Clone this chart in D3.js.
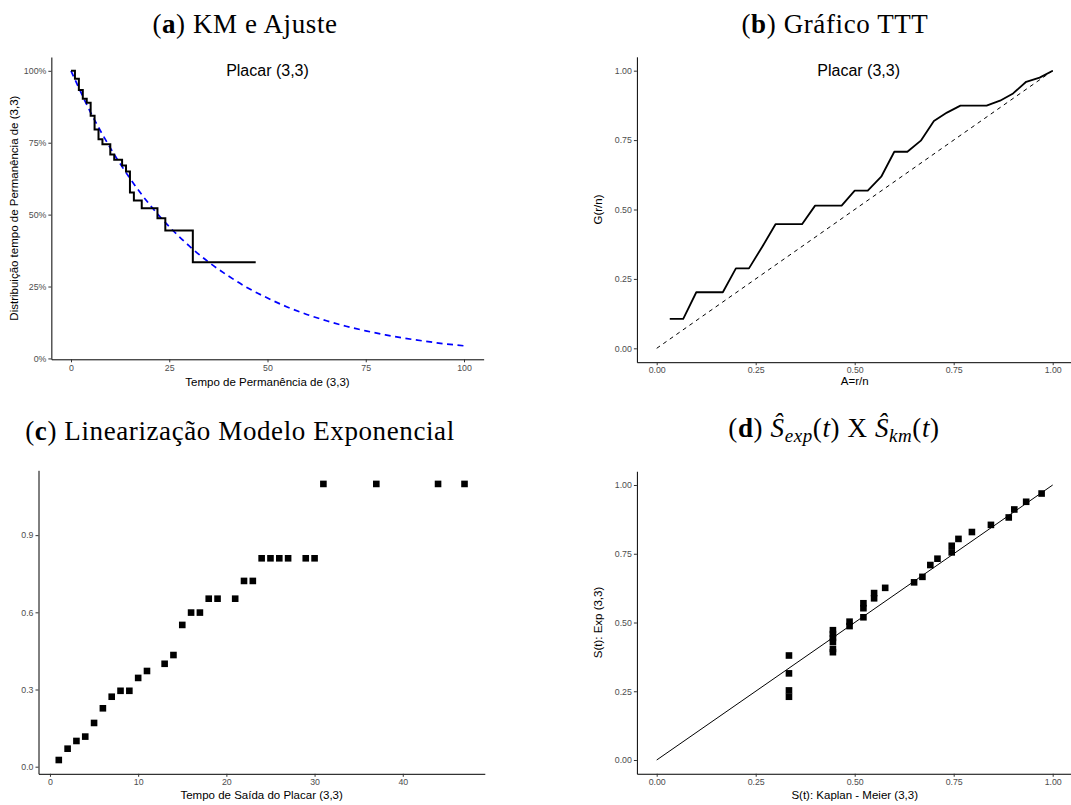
<!DOCTYPE html>
<html lang="pt">
<head>
<meta charset="UTF-8" />
<script src="https://d3js.org/d3.v7.min.js"></script>
<title>Placar (3,3)</title>
<style>
  body { margin: 0; background: #fff; }
  .tick text { font-family: "Liberation Sans", Arial, sans-serif; font-size: 8.8px; fill: #4d4d4d; }
  .tick line { stroke: #333; }
  .domain { stroke: #000; }
  .atitle { font-family: "Liberation Sans", Arial, sans-serif; font-size: 11.5px; fill: #000; }
  .ptitle { font-family: "Liberation Serif", "Times New Roman", serif; font-size: 27px; fill: #000; letter-spacing: 0.6px; }
  .annot { font-family: "Liberation Sans", Arial, sans-serif; font-size: 16px; fill: #000; }
</style>
</head>
<body>
<script>
// (a) Kaplan-Meier estimate (step) and fitted exponential curve
var kmTime = [0, 1, 2, 3, 4, 5, 6, 7, 8, 10, 11, 13, 14, 15, 16, 18, 22, 24, 31, 47];
var kmSurv = [1, 0.972, 0.933, 0.903, 0.889, 0.844, 0.796, 0.762, 0.745, 0.709, 0.691, 0.671, 0.650, 0.577, 0.549, 0.522, 0.487, 0.445, 0.334, 0.334];
var expTime = [0, 5, 10, 15, 20, 25, 30, 35, 40, 45, 50, 55, 60, 65, 70, 75, 80, 85, 90, 95, 100];
var expSurv = [1, 0.855, 0.732, 0.626, 0.535, 0.458, 0.392, 0.335, 0.287, 0.245, 0.210, 0.179, 0.153, 0.131, 0.112, 0.096, 0.082, 0.070, 0.060, 0.051, 0.044];
var kmXTicks = [0, 25, 50, 75, 100];
var kmYTicks = [0, 0.25, 0.5, 0.75, 1];

// (b) TTT plot
var tttA = [0.033, 0.067, 0.100, 0.133, 0.167, 0.200, 0.233, 0.267, 0.300, 0.333, 0.367, 0.400, 0.433, 0.467, 0.500,
            0.533, 0.567, 0.600, 0.633, 0.667, 0.700, 0.733, 0.767, 0.800, 0.833, 0.867, 0.900, 0.933, 0.967, 1.000];
var tttG = [0.106, 0.106, 0.202, 0.202, 0.202, 0.288, 0.288, 0.367, 0.447, 0.447, 0.447, 0.514, 0.514, 0.514, 0.568,
            0.568, 0.618, 0.708, 0.708, 0.748, 0.819, 0.849, 0.874, 0.874, 0.874, 0.892, 0.918, 0.960, 0.975, 1.000];
var unitTicks = [0, 0.25, 0.5, 0.75, 1];

// (c) linearization: -log S(t) vs time
var linTime = [1, 2, 3, 4, 5, 6, 7, 8, 9, 10, 11, 13, 14, 15, 16, 17, 18, 19, 21, 22, 23, 24, 25, 26, 27, 29, 30, 31, 37, 44, 47];
var linVal = [0.026, 0.070, 0.100, 0.117, 0.170, 0.227, 0.272, 0.295, 0.295, 0.345, 0.372, 0.400, 0.434, 0.551, 0.599, 0.599,
              0.653, 0.653, 0.653, 0.722, 0.722, 0.81, 0.81, 0.81, 0.81, 0.81, 0.81, 1.099, 1.099, 1.099, 1.099];
var linXTicks = [0, 10, 20, 30, 40];
var linYTicks = [0, 0.3, 0.6, 0.9];

// (d) S_exp vs S_km
var cmpKm = [0.334, 0.334, 0.334, 0.334, 0.445, 0.445, 0.445, 0.445, 0.445, 0.445, 0.487, 0.487, 0.522, 0.522, 0.522,
             0.549, 0.549, 0.577, 0.650, 0.671, 0.691, 0.709, 0.745, 0.745, 0.762, 0.796, 0.844, 0.889, 0.903, 0.933, 0.972];
var cmpExp = [0.380, 0.315, 0.253, 0.230, 0.472, 0.458, 0.444, 0.430, 0.404, 0.392, 0.503, 0.487, 0.570, 0.552, 0.519,
              0.607, 0.588, 0.626, 0.646, 0.666, 0.709, 0.732, 0.779, 0.755, 0.804, 0.829, 0.855, 0.882, 0.911, 0.939, 0.969];

var svg = d3.select("body").append("svg").attr("width", 1071).attr("height", 805);

function axes(x, y, xt, yt, xf, yf) {
  var xr = x.range(), yr = y.range();
  svg.append("g").attr("transform", "translate(0," + yr[0] + ")")
    .call(d3.axisBottom(x).tickValues(xt).tickFormat(xf).tickSize(3).tickSizeOuter(0).tickPadding(2));
  svg.append("g").attr("transform", "translate(" + xr[0] + ",0)")
    .call(d3.axisLeft(y).tickValues(yt).tickFormat(yf).tickSize(3).tickSizeOuter(0).tickPadding(2));
}
function xTitle(x, ypos, txt) {
  var r = x.range();
  svg.append("text").attr("class", "atitle").attr("x", (r[0] + r[1]) / 2).attr("y", ypos)
    .attr("text-anchor", "middle").text(txt);
}
function yTitle(y, xpos, txt) {
  var r = y.range();
  var cy = (r[0] + r[1]) / 2;
  svg.append("text").attr("class", "atitle").attr("transform", "translate(" + xpos + "," + cy + ") rotate(-90)")
    .attr("text-anchor", "middle").text(txt);
}
function title(cx, cy, parts) {
  var t = svg.append("text").attr("class", "ptitle").attr("x", cx).attr("y", cy).attr("text-anchor", "middle");
  parts.forEach(function(p) {
    var s = t.append("tspan").text(p.t);
    if (p.b) s.attr("font-weight", "bold");
    if (p.i) s.attr("font-style", "italic");
    if (p.sub) s.attr("font-size", "19px").attr("dy", p.dy);
    else if (p.dy) s.attr("dy", p.dy);
  });
}
var fmt2 = d3.format(".2f");

// ---- (a)
var xa = d3.scaleLinear().domain([-5, 105]).range([51.35, 483.65]);
var ya = d3.scaleLinear().domain([-0.003, 1.048]).range([359.3, 57.0]);
axes(xa, ya, kmXTicks, kmYTicks, d3.format("d"), d3.format(".0%"));
svg.append("path").datum(d3.range(expTime.length))
  .attr("d", d3.line().x(function(i){ return xa(expTime[i]); }).y(function(i){ return ya(expSurv[i]); }).curve(d3.curveMonotoneX))
  .attr("fill", "none").attr("stroke", "#0000ff").attr("stroke-width", 1.7).attr("stroke-dasharray", "6,4.5");
svg.append("path").datum(d3.range(kmTime.length))
  .attr("d", d3.line().x(function(i){ return xa(kmTime[i]); }).y(function(i){ return ya(kmSurv[i]); }).curve(d3.curveStepAfter))
  .attr("fill", "none").attr("stroke", "#000").attr("stroke-width", 2);
svg.append("text").attr("class", "annot").attr("x", xa(50)).attr("y", ya(1)).attr("dy", "0.35em")
  .attr("text-anchor", "middle").text("Placar (3,3)");
xTitle(xa, 386, "Tempo de Permanência de (3,3)");
yTitle(ya, 18, "Distribuição tempo de Permanência de (3,3)");

// ---- (b)
var xb = d3.scaleLinear().domain([-0.05, 1.05]).range([636.9, 1072.5]);
var yb = d3.scaleLinear().domain([-0.05, 1.05]).range([362.2, 56.8]);
axes(xb, yb, unitTicks, unitTicks, fmt2, fmt2);
svg.append("path").datum([0, 1])
  .attr("d", d3.line().x(function(d){ return xb(d); }).y(function(d){ return yb(d); }))
  .attr("fill", "none").attr("stroke", "#000").attr("stroke-width", 1).attr("stroke-dasharray", "4,4");
svg.append("path").datum(d3.range(tttA.length))
  .attr("d", d3.line().x(function(i){ return xb(tttA[i]); }).y(function(i){ return yb(tttG[i]); }))
  .attr("fill", "none").attr("stroke", "#000").attr("stroke-width", 1.8).attr("stroke-linejoin", "round");
svg.append("text").attr("class", "annot").attr("x", xb(0.51)).attr("y", yb(1)).attr("dy", "0.35em")
  .attr("text-anchor", "middle").text("Placar (3,3)");
xTitle(xb, 385, "A=r/n");
yTitle(yb, 602, "G(r/n)");

// ---- (c)
var xc = d3.scaleLinear().domain([-1.3, 49.3]).range([38.5, 484.8]);
var yc = d3.scaleLinear().domain([-0.0276, 1.152]).range([773.8, 470.3]);
axes(xc, yc, linXTicks, linYTicks, d3.format("d"), d3.format(".1f"));
svg.append("g").selectAll("rect").data(d3.range(linTime.length)).join("rect")
  .attr("x", function(i){ return xc(linTime[i]) - 3.3; }).attr("y", function(i){ return yc(linVal[i]) - 3.3; })
  .attr("width", 6.6).attr("height", 6.6).attr("fill", "#000");
xTitle(xc, 799, "Tempo de Saída do Placar (3,3)");

// ---- (d)
var xd = d3.scaleLinear().domain([-0.05, 1.05]).range([636.9, 1072.5]);
var yd = d3.scaleLinear().domain([-0.05, 1.05]).range([773.75, 471.25]);
axes(xd, yd, unitTicks, unitTicks, fmt2, fmt2);
svg.append("path").datum([0, 1])
  .attr("d", d3.line().x(function(d){ return xd(d); }).y(function(d){ return yd(d); }))
  .attr("fill", "none").attr("stroke", "#000").attr("stroke-width", 1);
svg.append("g").selectAll("rect").data(d3.range(cmpKm.length)).join("rect")
  .attr("x", function(i){ return xd(cmpKm[i]) - 3.3; }).attr("y", function(i){ return yd(cmpExp[i]) - 3.3; })
  .attr("width", 6.6).attr("height", 6.6).attr("fill", "#000");
xTitle(xd, 799, "S(t): Kaplan - Meier (3,3)");
yTitle(yd, 602, "S(t): Exp (3,3)");

// panel captions
title(245, 33, [{t: "("}, {t: "a", b: true}, {t: ") KM e Ajuste"}]);
title(835, 33, [{t: "("}, {t: "b", b: true}, {t: ") Gráfico TTT"}]);
title(240, 440, [{t: "("}, {t: "c", b: true}, {t: ") Linearização Modelo Exponencial"}]);
title(834, 437, [{t: "("}, {t: "d", b: true}, {t: ") "}, {t: "Ŝ", i: true}, {t: "exp", i: true, sub: true, dy: 5},
  {t: "(", dy: -5}, {t: "t", i: true}, {t: ") X "}, {t: "Ŝ", i: true}, {t: "km", i: true, sub: true, dy: 5},
  {t: "(", dy: -5}, {t: "t", i: true}, {t: ")"}]);
</script>
</body>
</html>
